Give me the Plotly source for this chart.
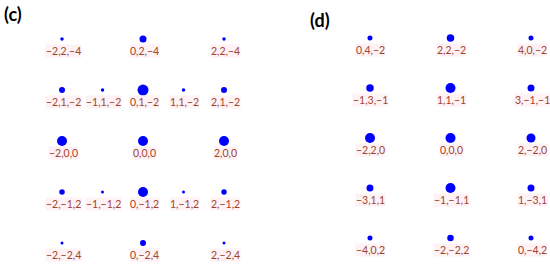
import plotly.graph_objects as go

# Panel (c)
c_labels = ["−2,2,−4", "0,2,−4", "2,2,−4",
            "−2,1,−2", "−1,1,−2", "0,1,−2", "1,1,−2", "2,1,−2",
            "−2,0,0", "0,0,0", "2,0,0",
            "−2,−1,2", "−1,−1,2", "0,−1,2", "1,−1,2", "2,−1,2",
            "−2,−2,4", "0,−2,4", "2,−2,4"]
c_col = [-2, 0, 2, -2, -1, 0, 1, 2, -2, 0, 2, -2, -1, 0, 1, 2, -2, 0, 2]
c_row = [2, 2, 2, 1, 1, 1, 1, 1, 0, 0, 0, -1, -1, -1, -1, -1, -2, -2, -2]
c_size = [3.5, 7, 3.5, 6, 3.5, 11, 3.5, 6, 10, 10, 10, 5.5, 3, 10, 3, 5.5, 3, 6, 3]

# Panel (d)
d_labels = ["0,4,−2", "2,2,−2", "4,0,−2",
            "−1,3,−1", "1,1,−1", "3,−1,−1",
            "−2,2,0", "0,0,0", "2,−2,0",
            "−3,1,1", "−1,−1,1", "1,−3,1",
            "−4,0,2", "−2,−2,2", "0,−4,2"]
d_col = [-1, 0, 1, -1, 0, 1, -1, 0, 1, -1, 0, 1, -1, 0, 1]
d_row = [2, 2, 2, 1, 1, 1, 0, 0, 0, -1, -1, -1, -2, -2, -2]
d_size = [5, 7.5, 5, 7.5, 10, 7, 10, 10, 9, 7, 10, 7, 5, 6.5, 5]

dot_color = "#0000ff"
label_color = "#a0442c"
label_bg = "#fef2f5"

fig = go.Figure()
fig.add_trace(go.Scatter(x=c_col, y=c_row, mode="markers",
                         marker=dict(size=c_size, color=dot_color, opacity=1, line=dict(width=0)),
                         xaxis="x", yaxis="y", hoverinfo="skip"))
fig.add_trace(go.Scatter(x=d_col, y=d_row, mode="markers",
                         marker=dict(size=d_size, color=dot_color, opacity=1, line=dict(width=0)),
                         xaxis="x2", yaxis="y2", hoverinfo="skip"))

annots = []
for lab, x, y in zip(c_labels, c_col, c_row):
    annots.append(dict(x=x, y=y, xref="x", yref="y", text=lab, showarrow=False,
                       yshift=-12, xshift=1, bgcolor=label_bg, borderpad=0,
                       font=dict(family="Lato", size=10.5, color=label_color)))
for lab, x, y in zip(d_labels, d_col, d_row):
    annots.append(dict(x=x, y=y, xref="x2", yref="y2", text=lab, showarrow=False,
                       yshift=-12, xshift=1, bgcolor=label_bg, borderpad=0,
                       font=dict(family="Lato", size=10.5, color=label_color)))
annots.append(dict(x=2 / 550, y=1 - 14 / 267, xref="paper", yref="paper", text="<b>(c)</b>",
                   showarrow=False, xanchor="left", yanchor="middle",
                   font=dict(family="Lato", size=18, color="black")))
annots.append(dict(x=308 / 550, y=1 - 20 / 267, xref="paper", yref="paper", text="<b>(d)</b>",
                   showarrow=False, xanchor="left", yanchor="middle",
                   font=dict(family="Lato", size=18, color="black")))

ax = dict(visible=False, showgrid=False, zeroline=False, fixedrange=True)
fig.update_layout(
    width=550, height=267,
    margin=dict(l=0, r=0, t=0, b=0),
    paper_bgcolor="white", plot_bgcolor="white",
    showlegend=False,
    xaxis=dict(domain=[0, 0.5], range=[-3.531, 3.259], **ax),
    yaxis=dict(domain=[0, 1], range=[-2.47, 2.765], **ax),
    xaxis2=dict(domain=[0.5, 1], range=[-2.18, 1.236], anchor="y2", **ax),
    yaxis2=dict(domain=[0, 1], range=[-2.58, 2.76], anchor="x2", **ax),
    annotations=annots,
)

fig.write_html("out.html", config={"displayModeBar": False},
               post_script="document.body.style.margin='0';document.body.style.overflow='hidden';")
